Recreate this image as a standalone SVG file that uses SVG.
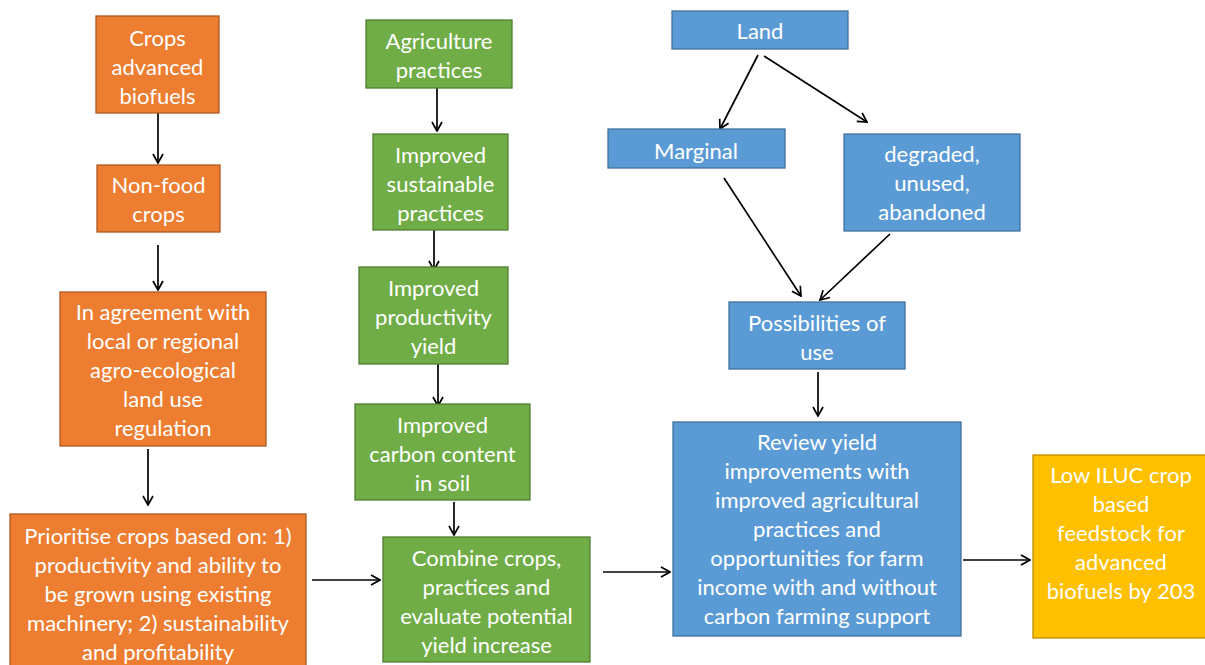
<svg xmlns="http://www.w3.org/2000/svg" width="1205" height="665" viewBox="0 0 1205 665">
<defs>
<style>
text{font-family:Lato,"Open Sans","Liberation Sans",sans-serif;font-size:22px;fill:#fff;text-anchor:middle;dominant-baseline:central}
.o{fill:#ED7D31;stroke:#AE5A21;stroke-width:1.3}
.g{fill:#70AD47;stroke:#507E32;stroke-width:1.3}
.b{fill:#5B9BD5;stroke:#41719C;stroke-width:1.3}
.y{fill:#FFC000;stroke:#BC8C00;stroke-width:1.3}
.c{stroke:#000;stroke-width:1.7;fill:none;marker-end:url(#ah)}
</style>
<marker id="ah" viewBox="0 0 14 14" refX="13" refY="7" markerWidth="14" markerHeight="14" markerUnits="userSpaceOnUse" orient="auto">
<path d="M4,2 L13,7 L4,12" fill="none" stroke="#000" stroke-width="1.7"/>
</marker>
</defs>
<rect width="1205" height="665" fill="#fff"/>
<g id="connectors">
<line class="c" x1="158" y1="113" x2="158" y2="163"/>
<line class="c" x1="158" y1="245" x2="158" y2="290"/>
<line class="c" x1="148" y1="449" x2="148" y2="505"/>
<line class="c" x1="312" y1="580" x2="380" y2="580"/>
<line class="c" x1="437" y1="88" x2="437" y2="131"/>
<line class="c" x1="434" y1="228" x2="434" y2="270"/>
<line class="c" x1="438" y1="364" x2="438" y2="406"/>
<line class="c" x1="454" y1="502" x2="454" y2="535"/>
<line class="c" x1="603" y1="572" x2="670" y2="572"/>
<line class="c" x1="758" y1="55" x2="720" y2="129"/>
<line class="c" x1="764" y1="56" x2="867" y2="122"/>
<line class="c" x1="724" y1="178" x2="801" y2="296"/>
<line class="c" x1="890" y1="234" x2="820" y2="300"/>
<line class="c" x1="818" y1="372" x2="818" y2="416"/>
<line class="c" x1="963" y1="560" x2="1030" y2="560"/>
</g>
<g id="n-crops"><rect class="o" x="96" y="16" width="123" height="97"/><text><tspan x="157.5" y="37">Crops</tspan><tspan x="157.5" y="66">advanced</tspan><tspan x="157.5" y="95">biofuels</tspan></text></g>
<g id="n-nonfood"><rect class="o" x="97" y="165" width="123" height="67"/><text><tspan x="158.5" y="184">Non-food</tspan><tspan x="158.5" y="213">crops</tspan></text></g>
<g id="n-agreement"><rect class="o" x="60" y="292" width="206" height="154"/><text><tspan x="163" y="311">In agreement with</tspan><tspan x="163" y="340">local or regional</tspan><tspan x="163" y="369">agro-ecological</tspan><tspan x="163" y="398">land use</tspan><tspan x="163" y="427">regulation</tspan></text></g>
<g id="n-prioritise"><rect class="o" x="10" y="514" width="296" height="160"/><text><tspan x="158" y="535">Prioritise crops based on: 1)</tspan><tspan x="158" y="564">productivity and ability to</tspan><tspan x="158" y="593">be grown using existing</tspan><tspan x="158" y="622">machinery; 2) sustainability</tspan><tspan x="158" y="651">and profitability</tspan></text></g>
<g id="n-agri"><rect class="g" x="366" y="20" width="146" height="68"/><text><tspan x="439" y="40">Agriculture</tspan><tspan x="439" y="69">practices</tspan></text></g>
<g id="n-sust"><rect class="g" x="373" y="134" width="135" height="96"/><text><tspan x="440.5" y="154">Improved</tspan><tspan x="440.5" y="183">sustainable</tspan><tspan x="440.5" y="212">practices</tspan></text></g>
<g id="n-prod"><rect class="g" x="359" y="267" width="149" height="97"/><text><tspan x="433.5" y="287">Improved</tspan><tspan x="433.5" y="316">productivity</tspan><tspan x="433.5" y="345">yield</tspan></text></g>
<g id="n-carbon"><rect class="g" x="355" y="404" width="175" height="96"/><text><tspan x="442.5" y="424">Improved</tspan><tspan x="442.5" y="453">carbon content</tspan><tspan x="442.5" y="482">in soil</tspan></text></g>
<g id="n-combine"><rect class="g" x="383" y="537" width="207" height="125"/><text><tspan x="486.5" y="557">Combine crops,</tspan><tspan x="486.5" y="586">practices and</tspan><tspan x="486.5" y="615">evaluate potential</tspan><tspan x="486.5" y="644">yield increase</tspan></text></g>
<g id="n-land"><rect class="b" x="672" y="11" width="176" height="38"/><text x="760" y="30">Land</text></g>
<g id="n-marginal"><rect class="b" x="608" y="129" width="177" height="39"/><text x="696" y="150">Marginal</text></g>
<g id="n-degraded"><rect class="b" x="844" y="134" width="176" height="97"/><text><tspan x="932" y="153">degraded,</tspan><tspan x="932" y="182">unused,</tspan><tspan x="932" y="211">abandoned</tspan></text></g>
<g id="n-possib"><rect class="b" x="729" y="302" width="176" height="67"/><text><tspan x="817" y="322">Possibilities of</tspan><tspan x="817" y="351">use</tspan></text></g>
<g id="n-review"><rect class="b" x="673" y="422" width="288" height="214"/><text><tspan x="817" y="441">Review yield</tspan><tspan x="817" y="470">improvements with</tspan><tspan x="817" y="499">improved agricultural</tspan><tspan x="817" y="528">practices and</tspan><tspan x="817" y="557">opportunities for farm</tspan><tspan x="817" y="586">income with and without</tspan><tspan x="817" y="615">carbon farming support</tspan></text></g>
<g id="n-low"><rect class="y" x="1033" y="455" width="180" height="183"/><text><tspan x="1121" y="474">Low ILUC crop</tspan><tspan x="1121" y="503">based</tspan><tspan x="1121" y="532">feedstock for</tspan><tspan x="1121" y="561">advanced</tspan><tspan x="1121" y="590">biofuels by 203</tspan></text></g>
</svg>
